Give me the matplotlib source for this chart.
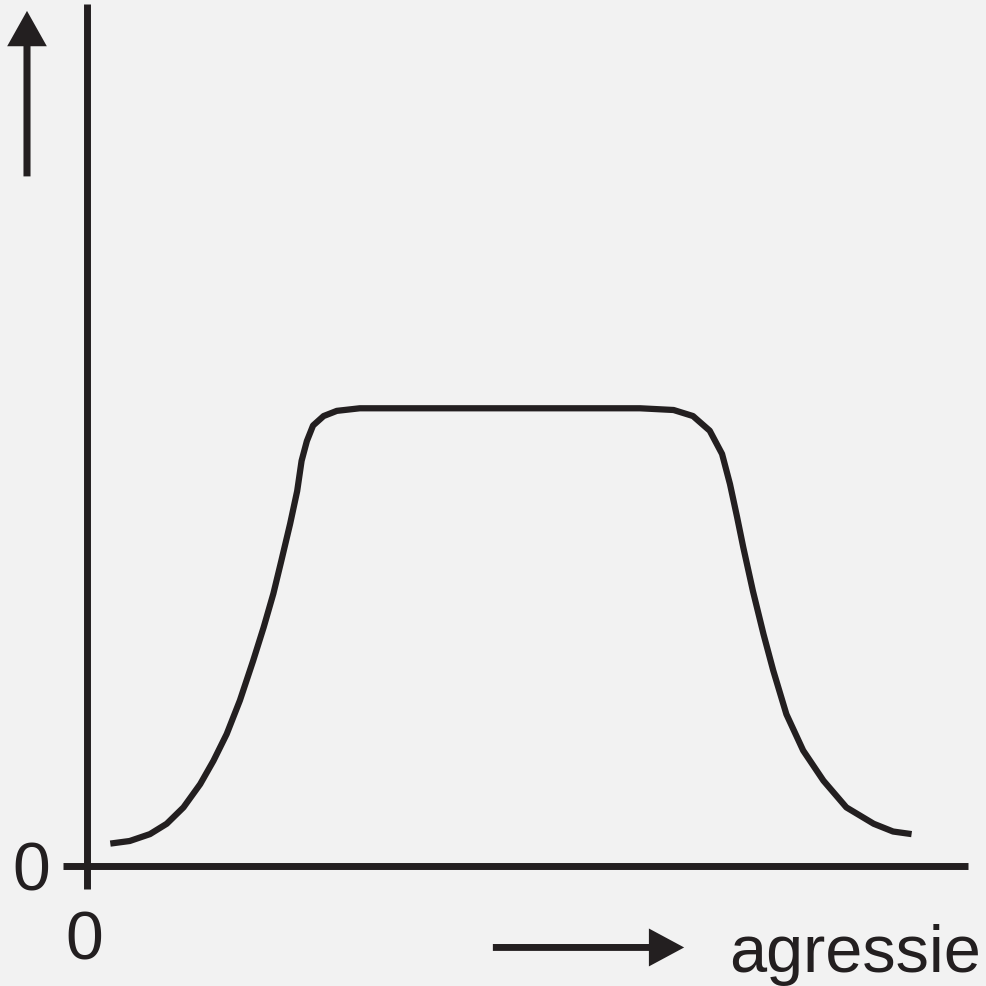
import numpy as np
import matplotlib.pyplot as plt

# curve (x = agressie, y = arbitrary level)
curve_x = [0.27, 0.49, 0.72, 0.91, 1.10, 1.29, 1.44, 1.59, 1.74, 1.89, 2.01,
           2.12, 2.21, 2.31, 2.39, 2.44, 2.50, 2.57, 2.69, 2.84, 3.10,
           4.70, 6.28, 6.66, 6.88, 7.07, 7.21, 7.30, 7.38, 7.45, 7.56, 7.68,
           7.79, 7.94, 8.13, 8.36, 8.62, 8.93, 9.15, 9.36]
curve_y = [0.26, 0.29, 0.37, 0.49, 0.68, 0.95, 1.22, 1.53, 1.92, 2.38, 2.77,
           3.16, 3.54, 3.97, 4.35, 4.70, 4.93, 5.11, 5.22, 5.28, 5.31,
           5.31, 5.31, 5.29, 5.22, 5.05, 4.78, 4.43, 4.05, 3.70, 3.19, 2.69,
           2.27, 1.76, 1.34, 0.99, 0.68, 0.49, 0.40, 0.37]

x_label = "agressie"
zero_label = "0"

ink = "#231f20"
bg = "#f2f2f2"
plt.rcParams['font.family'] = ['Liberation Sans', 'DejaVu Sans']

fig = plt.figure(figsize=(9.86, 9.87), dpi=100, facecolor=bg)
ax = fig.add_axes([86.5 / 986, 120 / 987, 881.5 / 986, 862 / 987])
ax.set_facecolor(bg)
ax.set_xlim(0, 10)
ax.set_ylim(0, 10)
ax.axis('off')

# axes lines, slightly past the origin
ax.plot([-0.27, 10], [0, 0], color=ink, lw=5, solid_capstyle='butt', clip_on=False)
ax.plot([0, 0], [-0.27, 10], color=ink, lw=5, solid_capstyle='butt', clip_on=False)

# the curve
ax.plot(curve_x, curve_y, color=ink, lw=4.5, solid_capstyle='butt',
        solid_joinstyle='round', clip_on=False)

# direction arrows
ax.arrow(-0.675, 8.0, 0, 1.92, width=0.08, head_width=0.45, head_length=0.41,
         length_includes_head=True, color=ink, lw=0, clip_on=False)
ax.arrow(4.61, -0.945, 2.17, 0, width=0.08, head_width=0.44, head_length=0.40,
         length_includes_head=True, color=ink, lw=0, clip_on=False)

# labels
ax.text(-0.63, -0.06, zero_label, fontsize=49, color=ink, ha='center', va='center')
ax.text(-0.03, -0.86, zero_label, fontsize=49, color=ink, ha='center', va='center')
ax.text(7.29, -1.22, x_label, fontsize=48, color=ink, ha='left', va='baseline')

fig.savefig("out.png", dpi=100, facecolor=bg)
